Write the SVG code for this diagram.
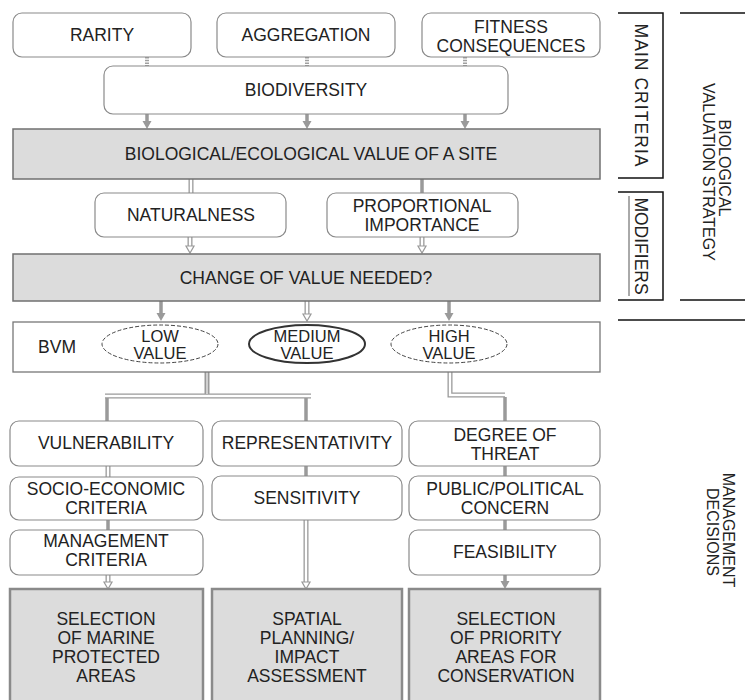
<svg xmlns="http://www.w3.org/2000/svg" width="745" height="700" viewBox="0 0 745 700">
<style>
text{font-family:"Liberation Sans",Arial,sans-serif;font-size:17.5px;fill:#222;text-anchor:middle}
.box{fill:#fff;stroke:#8a8a8a;stroke-width:1.2}
.gbox{fill:#dcdcdc;stroke:#707070;stroke-width:1.5}
.bbox{fill:#dcdcdc;stroke:#8a8a8a;stroke-width:2.5}
.thick{stroke:#9a9a9a;stroke-width:3.5;fill:none}
.dash{stroke:#a0a0a0;stroke-width:4;stroke-dasharray:1.5 1.2;fill:none}
.ho{stroke:#9a9a9a;stroke-width:5;fill:none}
.hi{stroke:#fff;stroke-width:2.4;fill:none}
.ohead{fill:#fff;stroke:#9a9a9a;stroke-width:1.2}
.brk{stroke:#111;stroke-width:1.5;fill:none}
.ell{fill:#fff;stroke:#444;stroke-width:1}
.dashed{stroke-dasharray:4 2}
.et{font-size:16.5px}
.side{font-size:16px}
</style>
<defs>
<marker id="fa" markerUnits="userSpaceOnUse" markerWidth="9" markerHeight="10" refX="2" refY="5" orient="auto">
<path d="M0,0.5 L8,5 L0,9.5 z" fill="#9a9a9a"/>
</marker>
</defs>

<g id="connectors">
<line class="dash" x1="147" y1="57" x2="147" y2="66"/>
<line class="dash" x1="307" y1="57" x2="307" y2="66"/>
<line class="dash" x1="465" y1="57" x2="465" y2="66"/>
<line class="thick" x1="147" y1="114" x2="147" y2="123" marker-end="url(#fa)"/>
<line class="thick" x1="307" y1="114" x2="307" y2="123" marker-end="url(#fa)"/>
<line class="thick" x1="465" y1="114" x2="465" y2="123" marker-end="url(#fa)"/>
<line class="ho" x1="191" y1="179" x2="191" y2="193"/>
<line class="hi" x1="191" y1="179" x2="191" y2="193"/>
<line class="thick" x1="422" y1="179" x2="422" y2="193"/>
<line class="ho" x1="190" y1="237" x2="190" y2="246"/>
<line class="hi" x1="190" y1="236" x2="190" y2="247"/>
<polygon class="ohead" points="186,246 194,246 190,253"/>
<line class="ho" x1="422" y1="237" x2="422" y2="246"/>
<line class="hi" x1="422" y1="236" x2="422" y2="247"/>
<polygon class="ohead" points="418,246 426,246 422,253"/>
<line class="thick" x1="161" y1="301" x2="161" y2="315" marker-end="url(#fa)"/>
<line class="ho" x1="307" y1="301" x2="307" y2="314"/>
<line class="hi" x1="307" y1="300" x2="307" y2="315"/>
<polygon class="ohead" points="303,314 311,314 307,321"/>
<line class="thick" x1="449" y1="301" x2="449" y2="315" marker-end="url(#fa)"/>
<path class="ho" d="M207,372 V396 M105,396 H311"/>
<path style="stroke:#d0d0d0;stroke-width:2;fill:none" d="M207,372 V394"/>
<path class="hi" d="M105,396 H311"/>
<line class="thick" x1="107" y1="398" x2="107" y2="421"/>
<line class="thick" x1="306" y1="398" x2="306" y2="421"/>
<path class="ho" d="M450,372 V395 H505"/>
<path class="hi" d="M450,372 V395 H505"/>
<line class="thick" x1="505" y1="397" x2="505" y2="421"/>
<line class="ho" x1="108" y1="466" x2="108" y2="477"/>
<line class="hi" x1="108" y1="466" x2="108" y2="477"/>
<line class="thick" x1="108" y1="520" x2="108" y2="530"/>
<line class="ho" x1="108" y1="575" x2="108" y2="582"/>
<line class="hi" x1="108" y1="574" x2="108" y2="583"/>
<polygon class="ohead" points="104,582 112,582 108,589"/>
<line class="thick" x1="306" y1="466" x2="306" y2="476"/>
<line class="ho" x1="306" y1="520" x2="306" y2="582"/>
<line class="hi" x1="306" y1="519" x2="306" y2="583"/>
<polygon class="ohead" points="302,582 310,582 306,589"/>
<line class="thick" x1="505" y1="466" x2="505" y2="476"/>
<line class="thick" x1="505" y1="520" x2="505" y2="530"/>
<line class="thick" x1="505" y1="575" x2="505" y2="583" marker-end="url(#fa)"/>
</g>

<g id="rarity"><rect class="box" x="13" y="13" width="178" height="44" rx="9"/><text x="102" y="41">RARITY</text></g>
<g id="aggregation"><rect class="box" x="217" y="13" width="178" height="44" rx="9"/><text x="306" y="41">AGGREGATION</text></g>
<g id="fitness"><rect class="box" x="422" y="13" width="178" height="44" rx="9"/><text x="511" y="33">FITNESS</text><text x="511" y="52">CONSEQUENCES</text></g>
<g id="biodiversity"><rect class="box" x="104" y="66" width="404" height="48" rx="9"/><text x="306" y="96">BIODIVERSITY</text></g>
<g id="value"><rect class="gbox" x="13" y="129" width="587" height="50"/><text x="311" y="160">BIOLOGICAL/ECOLOGICAL VALUE OF A SITE</text></g>
<g id="naturalness"><rect class="box" x="95" y="193" width="191" height="44" rx="9"/><text x="191" y="221">NATURALNESS</text></g>
<g id="proportional"><rect class="box" x="327" y="193" width="191" height="44" rx="9"/><text x="422" y="212">PROPORTIONAL</text><text x="422" y="231">IMPORTANCE</text></g>
<g id="change"><rect class="gbox" x="13" y="254" width="587" height="47"/><text x="306" y="284">CHANGE OF VALUE NEEDED?</text></g>
<g id="bvm"><rect fill="#fff" stroke="#777" stroke-width="1.3" x="13" y="322" width="587" height="50"/><text x="57" y="353">BVM</text></g>
<g id="low"><ellipse class="ell dashed" cx="160" cy="344" rx="58" ry="19"/><text class="et" x="160" y="342">LOW</text><text class="et" x="160" y="359">VALUE</text></g>
<g id="medium"><ellipse class="ell" style="stroke:#333;stroke-width:2" cx="307" cy="344" rx="58" ry="19"/><text class="et" x="307" y="342">MEDIUM</text><text class="et" x="307" y="359">VALUE</text></g>
<g id="high"><ellipse class="ell dashed" cx="449" cy="344" rx="58" ry="19"/><text class="et" x="449" y="342">HIGH</text><text class="et" x="449" y="359">VALUE</text></g>

<g id="vulnerability"><rect class="box" x="10" y="421" width="193" height="45" rx="9"/><text x="106" y="449">VULNERABILITY</text></g>
<g id="socio"><rect class="box" x="10" y="477" width="193" height="43" rx="9"/><text x="106" y="495">SOCIO-ECONOMIC</text><text x="106" y="514">CRITERIA</text></g>
<g id="management"><rect class="box" x="10" y="530" width="193" height="45" rx="9"/><text x="106" y="547">MANAGEMENT</text><text x="106" y="566">CRITERIA</text></g>
<g id="representativity"><rect class="box" x="212" y="421" width="190" height="45" rx="9"/><text x="307" y="449">REPRESENTATIVITY</text></g>
<g id="sensitivity"><rect class="box" x="212" y="476" width="190" height="44" rx="9"/><text x="307" y="504">SENSITIVITY</text></g>
<g id="threat"><rect class="box" x="409" y="421" width="191" height="45" rx="9"/><text x="505" y="441">DEGREE OF</text><text x="505" y="460">THREAT</text></g>
<g id="public"><rect class="box" x="409" y="476" width="191" height="44" rx="9"/><text x="505" y="495">PUBLIC/POLITICAL</text><text x="505" y="514">CONCERN</text></g>
<g id="feasibility"><rect class="box" x="409" y="530" width="191" height="45" rx="9"/><text x="505" y="558">FEASIBILITY</text></g>

<g id="mpa"><rect class="bbox" x="10" y="589" width="193" height="130"/><text x="106" y="625">SELECTION</text><text x="106" y="644">OF MARINE</text><text x="106" y="663">PROTECTED</text><text x="106" y="682">AREAS</text></g>
<g id="spatial"><rect class="bbox" x="212" y="589" width="190" height="130"/><text x="307" y="625">SPATIAL</text><text x="307" y="644">PLANNING/</text><text x="307" y="663">IMPACT</text><text x="307" y="682">ASSESSMENT</text></g>
<g id="priority"><rect class="bbox" x="409" y="589" width="191" height="130"/><text x="506" y="625">SELECTION</text><text x="506" y="644">OF PRIORITY</text><text x="506" y="663">AREAS FOR</text><text x="506" y="682">CONSERVATION</text></g>

<g id="main-criteria">
<path class="brk" d="M618,13 H663 V178 H618"/>
<text transform="translate(635,95) rotate(90)" textLength="143" lengthAdjust="spacing">MAIN CRITERIA</text>
</g>
<g id="modifiers">
<path class="brk" d="M618,192 H663 V300 H618"/>
<path class="brk" style="stroke:#555;stroke-width:1" d="M629,196 V296"/>
<text transform="translate(635,246) rotate(90)">MODIFIERS</text>
</g>
<g id="strategy">
<path class="brk" d="M680,13 H745 M680,300 H745"/>
<text class="side" transform="translate(719,168) rotate(90)">BIOLOGICAL</text>
<text class="side" transform="translate(703,172) rotate(90)">VALUATION STRATEGY</text>
</g>
<g id="decisions">
<path class="brk" d="M618,320 H745"/>
<text class="side" transform="translate(723,530) rotate(90)">MANAGEMENT</text>
<text class="side" transform="translate(707,532) rotate(90)">DECISIONS</text>
</g>
</svg>
